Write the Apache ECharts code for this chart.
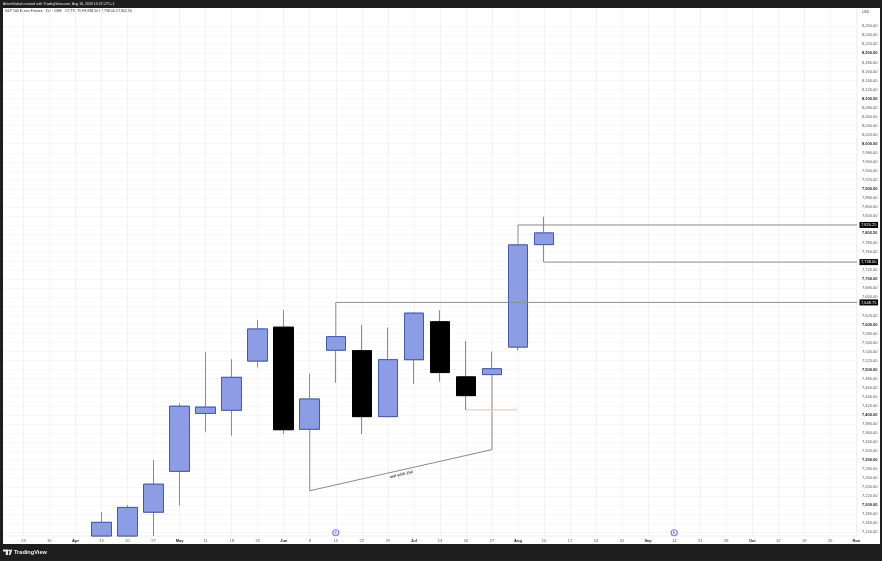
<!DOCTYPE html>
<html><head><meta charset="utf-8">
<style>html,body{margin:0;padding:0;background:#1e1e1e}#c{width:882px;height:561px}</style>
<script src="https://cdn.jsdelivr.net/npm/echarts@6/dist/echarts.min.js"></script>
</head><body><div id="c"></div>
<script>
const weekLabels=['23','30','Apr','13','20','27','May','11','18','25','Jun','8','15','22','29','Jul','13','20','27','Aug','10','17','24','31','Sep','14','21','28','Oct','12','19','26','Nov'];
const monthLabels=['Apr','May','Jun','Jul','Aug','Sep','Oct','Nov'];
const weekIndex=[3,4,5,6,7,8,9,10,11,12,13,14,15,16,17,18,19,20];
const opens =[7131.8,7131.8,7184.5,7275,7403,7410,7519,7594,7368,7543,7542,7396,7522,7606,7484,7489,7550,7776.75];
const closes=[7162,7195,7246.5,7419,7417,7483,7590,7367,7435,7573,7396,7522,7625,7493.5,7442.5,7502,7776,7802.5];
const lows  =[7131.8,7131.8,7131.8,7199,7363,7354,7505,7358,7368,7471,7357,7396,7468,7473,7411,7489,7542,7738];
const highs =[7184.5,7200,7300,7425.5,7538.5,7523,7610,7631.5,7490.5,7573,7599,7593,7628,7631.5,7563,7540,7776,7838.5];
const priceTicks=[7140,7160,7180,7200,7220,7240,7260,7280,7300,7320,7340,7360,7380,7400,7420,7440,7460,7480,7500,7520,7540,7560,7580,7600,7620,7640,7660,7680,7700,7720,7740,7760,7780,7800,7820,7840,7860,7880,7900,7920,7940,7960,7980,8000,8020,8040,8060,8080,8100,8120,8140,8160,8180,8200,8220,8240,8260];
const hiddenPriceLabels=[7640,7740,7800,7820];
const lastPrice=7802.5;
const levels=[{name:'7,820.25',from:19,value:7820.25},{name:'7,738.00',from:20,value:7738},{name:'7,648.75',from:12,value:7648.75}];
const trendPoints=[[11,7368],[11,7232],[18,7323],[18,7489]];
const trendText='swt with 150';
const redLine=[[17,7411],[19,7411]];
const eventIndex=[12,25];
const eventPrice=7139;
const legendText='S&P 500 E-mini Futures · 1W · CME   O7,776.75 H7,838.50 L7,738.00 C7,802.50';
const headerText='ArtemGabak created with TradingView.com, Aug 16, 2026 10:21 UTC+1';

const FONT='"Liberation Sans",Arial,sans-serif';
const fmt=v=>v.toLocaleString('en-US',{minimumFractionDigits:2,maximumFractionDigits:2});
const BLUE='#8c9de6',BLUE_B='#4458ad',WICK='#8a8a8a';
const full=weekIndex.map((w,i)=>[w,opens[i],closes[i],lows[i],highs[i]]);
const bodies=weekIndex.map((w,i)=>[w,opens[i],closes[i],Math.min(opens[i],closes[i]),Math.max(opens[i],closes[i])]);
const xMin=-0.785,xMax=32.025;
const candle=(name,data,bull,bear,z)=>({type:'candlestick',name,data,barWidth:20,z,silent:true,
  encode:{x:0,y:[1,2,3,4]},
  itemStyle:{color:BLUE,color0:'#000',borderColor:bull,borderColor0:bear,borderWidth:1}});
const chart=echarts.init(document.getElementById('c'),null,{renderer:'canvas'});
chart.setOption({
  animation:false,backgroundColor:'#1e1e1e',
  grid:{left:3,top:8,width:854,height:528,containLabel:false},
  xAxis:{type:'value',min:xMin,max:xMax,
    axisLine:{show:false},
    axisTick:{show:false,customValues:weekLabels.map((_,i)=>i)},
    splitLine:{show:true,lineStyle:{color:'#f3f3f5',width:1}},
    axisLabel:{customValues:weekLabels.map((_,i)=>i),margin:2.5,fontFamily:FONT,fontSize:4,color:'#555',hideOverlap:false,showMinLabel:true,showMaxLabel:true,
      formatter:v=>{const t=weekLabels[Math.round(v)];return monthLabels.includes(t)?'{b|'+t+'}':t;},
      rich:{b:{fontFamily:FONT,fontSize:4,fontWeight:'bold',color:'#222'}}}},
  yAxis:{type:'value',position:'right',min:7131.8,max:8300.4,
    axisLine:{show:false},
    axisTick:{show:false,customValues:priceTicks},
    splitLine:{show:true,lineStyle:{color:'#f6f6f8',width:1}},
    axisLabel:{customValues:priceTicks.filter(p=>!hiddenPriceLabels.includes(p)).concat(lastPrice),
      margin:5,align:'left',fontFamily:FONT,fontSize:4,color:'#555',hideOverlap:false,showMinLabel:true,showMaxLabel:true,
      formatter:v=>(v===lastPrice||v%100===0)?'{b|'+fmt(v)+'}':fmt(v),
      rich:{b:{fontFamily:FONT,fontSize:4,fontWeight:'bold',color:'#222'}}}},
  graphic:[
    {type:'rect',z:-100,shape:{x:3,y:8,width:877,height:536},style:{fill:'#fff'}},
    {type:'line',z:1,shape:{x1:857,y1:8,x2:857,y2:536},style:{stroke:'#f0f0f2',lineWidth:1}},
    {type:'line',z:1,shape:{x1:3,y1:536,x2:857,y2:536},style:{stroke:'#f0f0f2',lineWidth:1}},
    {type:'text',x:3,y:2,style:{text:headerText,fill:'#e8e8e8',font:'3.5px '+FONT}},
    {type:'text',x:5,y:9.5,style:{text:legendText,fill:'#333',font:'3.5px '+FONT}},
    {type:'text',x:862,y:10.5,style:{text:'USD',fill:'#444',font:'3.5px '+FONT}},
    {type:'polygon',shape:{points:[[3,549.5],[8,549.5],[8,555],[5.8,555],[5.8,551.5],[3,551.5]]},style:{fill:'#eee'}},
    {type:'circle',shape:{cx:9.2,cy:550.5,r:1},style:{fill:'#eee'}},
    {type:'polygon',shape:{points:[[8.6,555],[10.6,549.5],[12.4,549.5],[10.4,555]]},style:{fill:'#eee'}},
    {type:'text',x:14,y:549,style:{text:'TradingView',fill:'#eee',font:'bold 5.6px '+FONT}}
  ],
  series:[
    {type:'line',name:'trend',data:trendPoints,symbol:'none',z:1,silent:true,lineStyle:{color:'#8a8a8a',width:1}},
    candle('wicks',full,WICK,WICK,2),
    candle('bodies',bodies,BLUE_B,'#000',3),
    ...levels.map(l=>({type:'line',name:l.name,data:[[l.from,l.value],[xMax,l.value]],symbol:'none',z:4,silent:true,clip:false,
      lineStyle:{color:'#8f8f8f',width:1},
      endLabel:{show:true,formatter:l.name,distance:2.5,fontFamily:FONT,fontSize:4,color:'#fff',backgroundColor:'#000',padding:[1,1.5,1,1.5]}})),
    {type:'line',name:'rise',data:[[19,7649],[19,7820.25]],symbol:'none',z:1,silent:true,lineStyle:{color:'#8f8f8f',width:1}},
    {type:'line',name:'riseB',data:[[12,7573],[12,7648.75]],symbol:'none',z:1,silent:true,lineStyle:{color:'#8f8f8f',width:1}},
    {type:'line',name:'red',data:redLine,symbol:'none',z:1,silent:true,lineStyle:{color:'#f6b9b9',width:1}},
    {type:'scatter',name:'note',data:[[14.52,7268]],symbol:'circle',symbolSize:2,z:5,silent:true,
      itemStyle:{color:'rgba(0,0,0,0)'},
      label:{show:true,formatter:trendText,rotate:12.8,position:'inside',fontFamily:FONT,fontSize:4,fontWeight:'bold',color:'#000'}},
    {type:'scatter',name:'events',data:eventIndex.map(i=>[i,eventPrice]),symbol:'circle',symbolSize:6,z:6,silent:true,
      itemStyle:{color:'#fff',borderColor:'#7c4dff',borderWidth:1.2},
      label:{show:true,formatter:'E',position:'inside',fontFamily:FONT,fontSize:4,fontWeight:'bold',color:'#7c4dff'}}
  ]
});
</script></body></html>
